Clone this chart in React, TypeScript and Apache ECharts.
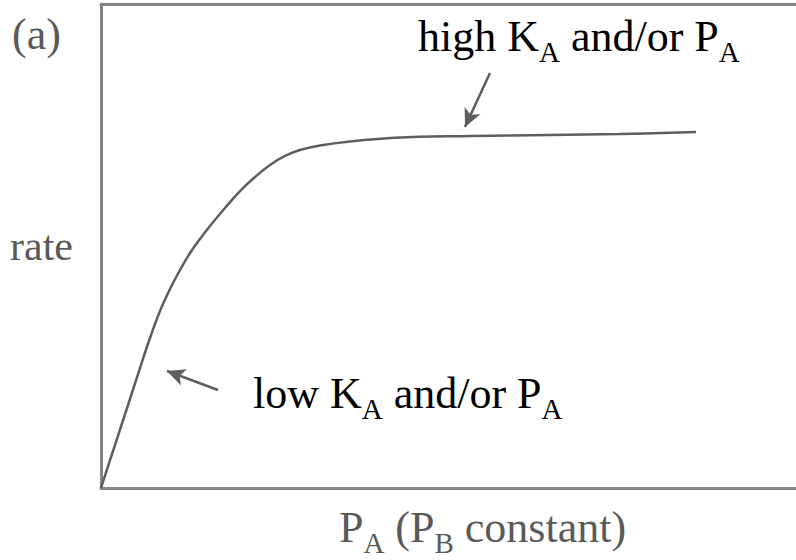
import React, { useEffect, useRef } from "react";
import * as echarts from "echarts";

// P_A (arbitrary units) and rate (arbitrary units)
const pA = [0, 0.201, 0.417, 0.561, 0.705, 0.849, 0.993, 1.137, 1.281, 1.424, 1.568, 1.784, 2.0, 2.216, 2.432, 2.647, 2.863, 3.151, 3.583, 4.23, 5.309, 6.46, 7.468, 8.561];
const rate = [0, 8.88, 18.39, 24.79, 30.99, 36.57, 41.12, 45.04, 48.55, 51.45, 54.13, 57.85, 61.36, 64.26, 66.74, 68.6, 69.83, 70.76, 71.59, 72.38, 72.73, 72.93, 73.14, 73.55];

// annotation arrows: [tail, tip] in data units
const highArrow = [[5.597, 85.74], [5.237, 74.59]];
const lowArrow = [[1.683, 20.25], [0.95, 24.17]];

const X_MAX = 10;
const Y_MAX = 100;

const INK = "#5a5a5a";
const FRAME = "#858585";
const FONT = "'Liberation Serif', 'Times New Roman', serif";

const rich = {
  n: { fontSize: 44, lineHeight: 60, fontFamily: FONT, color: INK },
  s: { fontSize: 29, lineHeight: 29, verticalAlign: "bottom", fontFamily: FONT, color: INK },
};

const hiddenAxis = {
  axisTick: { show: false },
  axisLabel: { show: false },
  splitLine: { show: false },
};

export default function App() {
  const ref = useRef<HTMLDivElement>(null);
  useEffect(() => {
    const chart = echarts.init(ref.current!, null, { renderer: "svg" });
    chart.setOption({
      animation: false,
      backgroundColor: "#ffffff",
      grid: {
        left: 101,
        top: 4,
        width: 695,
        height: 484,
        show: false,
        containLabel: false,
        outerBoundsMode: "none",
      },
      xAxis: [
        {
          type: "value",
          position: "bottom",
          min: 0,
          max: X_MAX,
          ...hiddenAxis,
          axisLine: { show: true, onZero: false, lineStyle: { color: FRAME, width: 3 } },
          name: "{n|P}{s|A}{n| (P}{s|B}{n| constant)}",
          nameLocation: "middle",
          nameGap: 9,
          nameTextStyle: { rich, padding: [0, 0, 0, 68] },
        },
        {
          type: "value",
          position: "top",
          min: 0,
          max: X_MAX,
          ...hiddenAxis,
          axisLine: { show: true, onZero: false, lineStyle: { color: FRAME, width: 3 } },
        },
      ],
      yAxis: {
        type: "value",
        min: 0,
        max: Y_MAX,
        ...hiddenAxis,
        axisLine: { show: true, onZero: false, lineStyle: { color: FRAME, width: 3 } },
        name: "rate",
        nameLocation: "middle",
        nameRotate: 0,
        nameGap: 28,
        nameTextStyle: { fontSize: 42, fontFamily: FONT, color: INK },
      },
      series: [
        {
          type: "line",
          xAxisIndex: 0,
          data: pA.map((x, i) => [x, rate[i]]),
          smooth: 0.4,
          symbol: "none",
          lineStyle: { color: "#5e5e5e", width: 2.5 },
          markLine: {
            silent: true,
            symbol: ["none", "arrow"],
            symbolSize: [13, 18],
            label: { show: false },
            lineStyle: { color: "#5e5e5e", width: 2.5, type: "solid" },
            data: [
              [{ coord: highArrow[0] }, { coord: highArrow[1] }],
              [{ coord: lowArrow[0] }, { coord: lowArrow[1] }],
            ],
          },
        },
      ],
      graphic: [
        {
          type: "text",
          left: 12,
          top: 12,
          style: { text: "(a)", fontSize: 44, fontFamily: FONT, fill: INK },
        },
        {
          type: "text",
          left: 418,
          top: 14,
          style: { text: "{n|high K}{s|A}{n| and/or P}{s|A}", rich },
        },
        {
          type: "text",
          left: 253,
          top: 371,
          style: { text: "{n|low K}{s|A}{n| and/or P}{s|A}", rich },
        },
      ],
    });
    return () => chart.dispose();
  }, []);
  return (
    <div
      ref={ref}
      style={{ position: "fixed", left: 0, top: 0, width: 796, height: 560, background: "#fff" }}
    />
  );
}
